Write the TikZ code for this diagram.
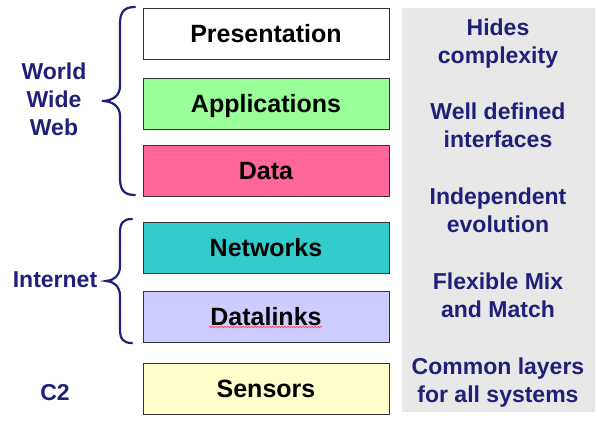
\documentclass[tikz,border=0pt]{standalone}
\usepackage{fontspec}
\setmainfont{Liberation Sans}
\usetikzlibrary{decorations.pathmorphing}

\definecolor{navy}{RGB}{32,32,120}
\definecolor{panelgray}{RGB}{232,232,232}
\definecolor{appgreen}{RGB}{153,255,153}
\definecolor{datapink}{RGB}{255,102,153}
\definecolor{netteal}{RGB}{51,204,204}
\definecolor{linklilac}{RGB}{204,204,255}
\definecolor{sensyellow}{RGB}{255,255,204}

\tikzset{
  layer/.style={draw=black!80,line width=.8pt,minimum width=246pt,minimum height=51pt,
    inner sep=0pt,text height=17.5pt,text depth=0pt,font=\fontsize{25}{28}\selectfont\bfseries},
  note/.style={anchor=base,align=center,text=navy,inner sep=0pt,
    font=\fontsize{23}{28}\selectfont\bfseries},
  curly/.style={draw=navy,line width=2.2pt,line cap=round}
}

\begin{document}
\begin{tikzpicture}[x=1pt,y=-1pt]
\useasboundingbox (0,0) rectangle (597,423);
\fill[panelgray] (402,8) rectangle (595,412);
% the stack
\node[layer,fill=white] (pres) at (266,33.5) {Presentation};
\node[layer,fill=appgreen] (app) at (266,103.5) {Applications};
\node[layer,fill=datapink] (data) at (266,170.5) {Data};
\node[layer,fill=netteal] (net) at (266,248) {Networks};
\node[layer,fill=linklilac] (link) at (266,316.5) {Datalinks};
\node[layer,fill=sensyellow] (sens) at (266,388.5) {Sensors};
\draw[red!80,line width=.5pt,decorate,decoration={snake,amplitude=.9pt,segment length=3pt}] (209,327) -- (322,327);
% braces
\draw[curly] (135,7) .. controls (124,7) and (120,12) .. (120,24) -- (120,86)
  .. controls (120,96) and (112,101) .. (102,101)
  .. controls (112,101) and (120,106) .. (120,116) -- (120,178)
  .. controls (120,190) and (124,195) .. (135,195);
\draw[curly] (132,219) .. controls (123,219) and (120,223) .. (120,233) -- (120,266)
  .. controls (120,276) and (113,281) .. (106,281)
  .. controls (113,281) and (120,286) .. (120,296) -- (120,329)
  .. controls (120,339) and (123,343) .. (132,343);
% left labels (base = last line)
\node[note] (www) at (54,135) {World\\Wide\\Web};
\node[note] (inet) at (55,287) {Internet};
\node[note] (ctwo) at (55,400) {C2};
% right notes
\node[note] (hides) at (498,63) {Hides\\complexity};
\node[note] (iface) at (498,147) {Well defined\\interfaces};
\node[note] (evol) at (498,232) {Independent\\evolution};
\node[note] (mix) at (498,317) {Flexible Mix\\and Match};
\node[note] (common) at (498,402) {Common layers\\for all systems};
\end{tikzpicture}
\end{document}
